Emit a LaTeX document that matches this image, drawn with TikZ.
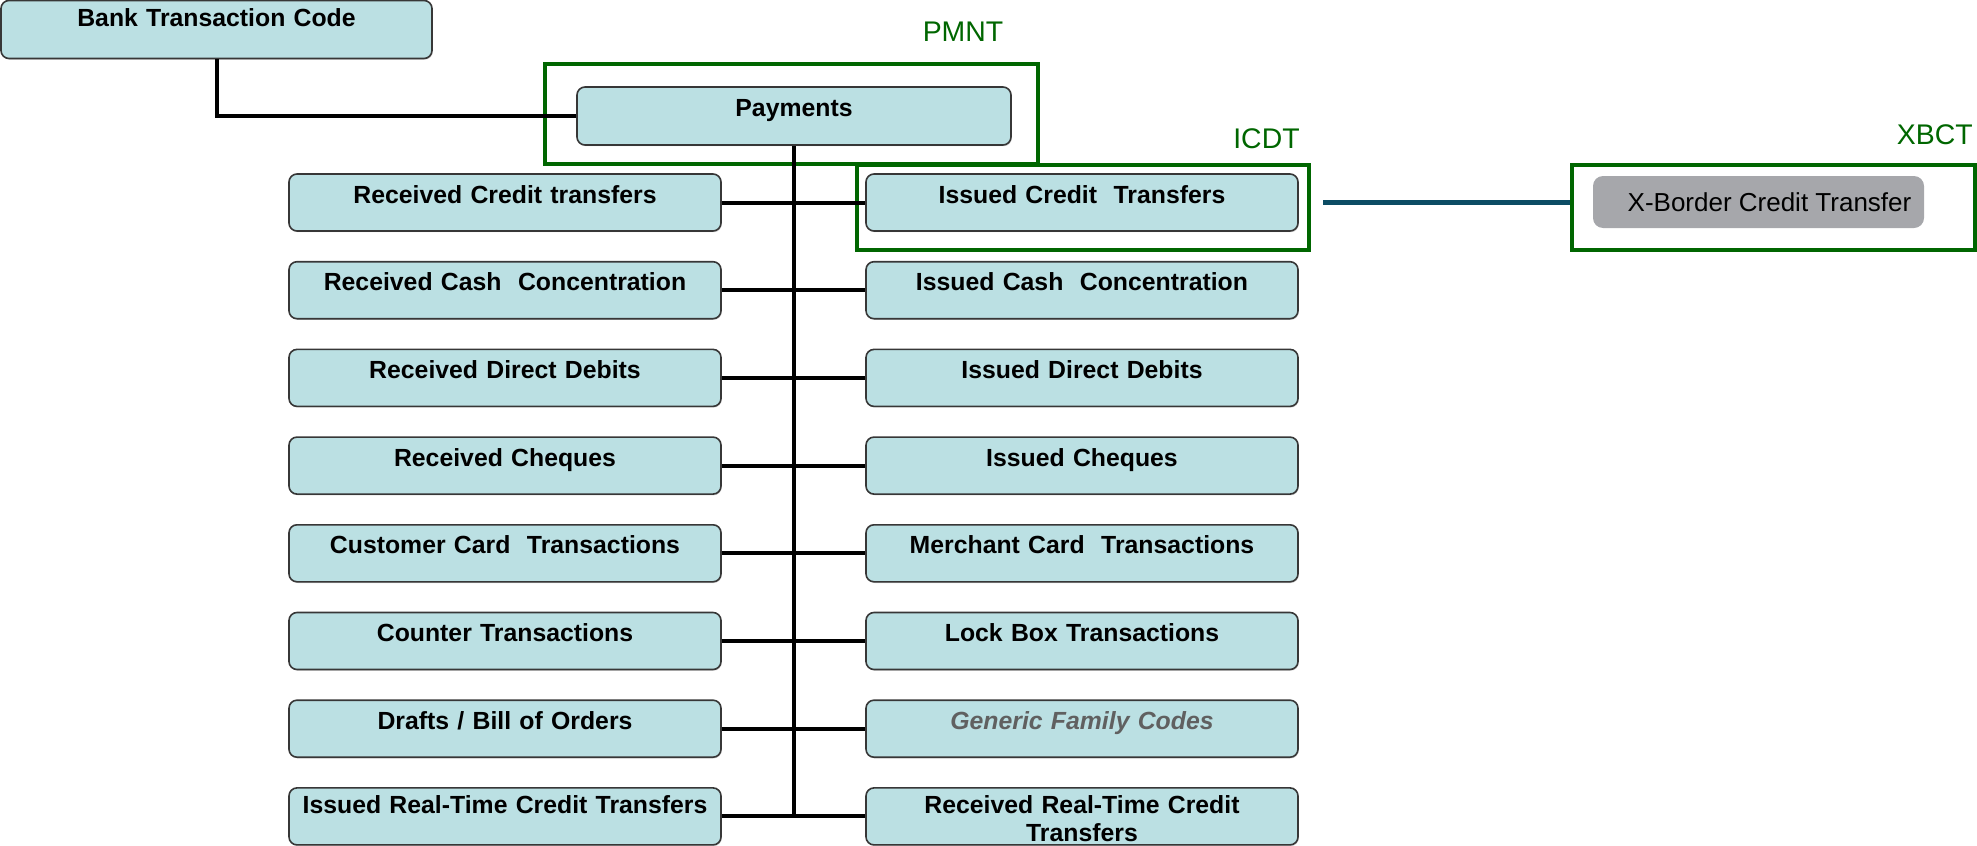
\documentclass[tikz,border=0pt]{standalone}
\usepackage{fontspec}
\setmainfont{Liberation Sans}
\usetikzlibrary{shadows}
\definecolor{boxfill}{RGB}{187,224,227}
\definecolor{boxline}{RGB}{55,55,55}
\definecolor{frameg}{RGB}{0,102,0}
\definecolor{greybox}{RGB}{166,167,171}
\definecolor{linkblue}{RGB}{12,76,100}
\definecolor{gentext}{RGB}{96,96,96}
\begin{document}
\begin{tikzpicture}[x=0.5pt,y=-0.5pt,
  boxn/.style={draw=boxline, line width=0.8pt, fill=boxfill, rounded corners=4pt,
    minimum width=216pt, minimum height=28.5pt, inner sep=0pt, text width=212pt,
    align=center, text height=14.5pt, text depth=14pt,
    font=\fontsize{12.4}{14}\selectfont\bfseries,
    drop shadow={shadow xshift=0.4pt, shadow yshift=-0.6pt, opacity=0.35}},
  gframe/.style={draw=frameg, line width=2pt, inner sep=0pt},
  codelabel/.style={text=frameg, font=\fontsize{14.2}{16}\selectfont, inner sep=0pt},
  conn/.style={line width=2pt, black},
  link/.style={line width=2.8pt, linkblue},
]
\useasboundingbox (0,0) rectangle (1977,846);

% green frames
\node[gframe, minimum width=246.5pt, minimum height=50pt] (pmntf) at (791.5,114) {};
\node[gframe, minimum width=226pt, minimum height=42.5pt] (icdtf) at (1083,207.5) {};
\node[gframe, minimum width=201.5pt, minimum height=42.5pt] (xbctf) at (1773.5,207.5) {};

% code labels
\node[codelabel] (pmnt) at (963,32) {PMNT};
\node[codelabel, anchor=east] (icdt) at (1300,139) {ICDT};
\node[codelabel, anchor=east] (xbct) at (1973,135) {XBCT};

% top boxes
\node[boxn, minimum width=215.5pt, text width=212pt, minimum height=29pt,
      text height=13pt, text depth=16pt] (bank) at (216.5,29.5) {Bank Transaction Code};
\node[boxn, minimum width=217pt, minimum height=29pt, text depth=14.5pt] (pay) at (794,116) {Payments};

% left column
\node[boxn] (l1) at (505,202.5) {Received Credit transfers};
\node[boxn] (l2) at (505,290.2) {Received Cash\ \ Concentration};
\node[boxn] (l3) at (505,377.9) {Received Direct Debits};
\node[boxn] (l4) at (505,465.6) {Received Cheques};
\node[boxn] (l5) at (505,553.3) {Customer Card\ \ Transactions};
\node[boxn] (l6) at (505,641.0) {Counter Transactions};
\node[boxn] (l7) at (505,728.7) {Drafts / Bill of Orders};
\node[boxn, text height=13pt, text depth=15.5pt] (l8) at (505,816.4) {Issued Real-Time Credit Transfers};

% right column
\node[boxn] (r1) at (1082,202.5) {Issued Credit\ \ Transfers};
\node[boxn] (r2) at (1082,290.2) {Issued Cash\ \ Concentration};
\node[boxn] (r3) at (1082,377.9) {Issued Direct Debits};
\node[boxn] (r4) at (1082,465.6) {Issued Cheques};
\node[boxn] (r5) at (1082,553.3) {Merchant Card\ \ Transactions};
\node[boxn] (r6) at (1082,641.0) {Lock Box Transactions};
\node[boxn, text=gentext, font=\fontsize{12.4}{14}\selectfont\bfseries\itshape] (r7) at (1082,728.7) {Generic Family Codes};
\node[boxn, text height=13pt, text depth=15.5pt] (r8) at (1082,816.4) {Received Real-Time Credit\\Transfers};

% X-border box
\node[fill=greybox, rounded corners=5pt, minimum width=165.5pt, minimum height=26pt,
      inner sep=0pt, font=\fontsize{13}{15}\selectfont] (xb) at (1758.5,202) {\hspace{11pt}X-Border Credit Transfer};

% connectors
\draw[conn] (bank.south) |- (pay.west);
\draw[conn] (pay.south) -- (pay.south |- l8.east);
\draw[conn] (l1.east) -- (r1.west);
\draw[conn] (l2.east) -- (r2.west);
\draw[conn] (l3.east) -- (r3.west);
\draw[conn] (l4.east) -- (r4.west);
\draw[conn] (l5.east) -- (r5.west);
\draw[conn] (l6.east) -- (r6.west);
\draw[conn] (l7.east) -- (r7.west);
\draw[conn] (l8.east) -- (r8.west);
\draw[link] ([xshift=6pt]icdtf.east |- r1.east) -- (xbctf.west |- r1.east);
\end{tikzpicture}
\end{document}
